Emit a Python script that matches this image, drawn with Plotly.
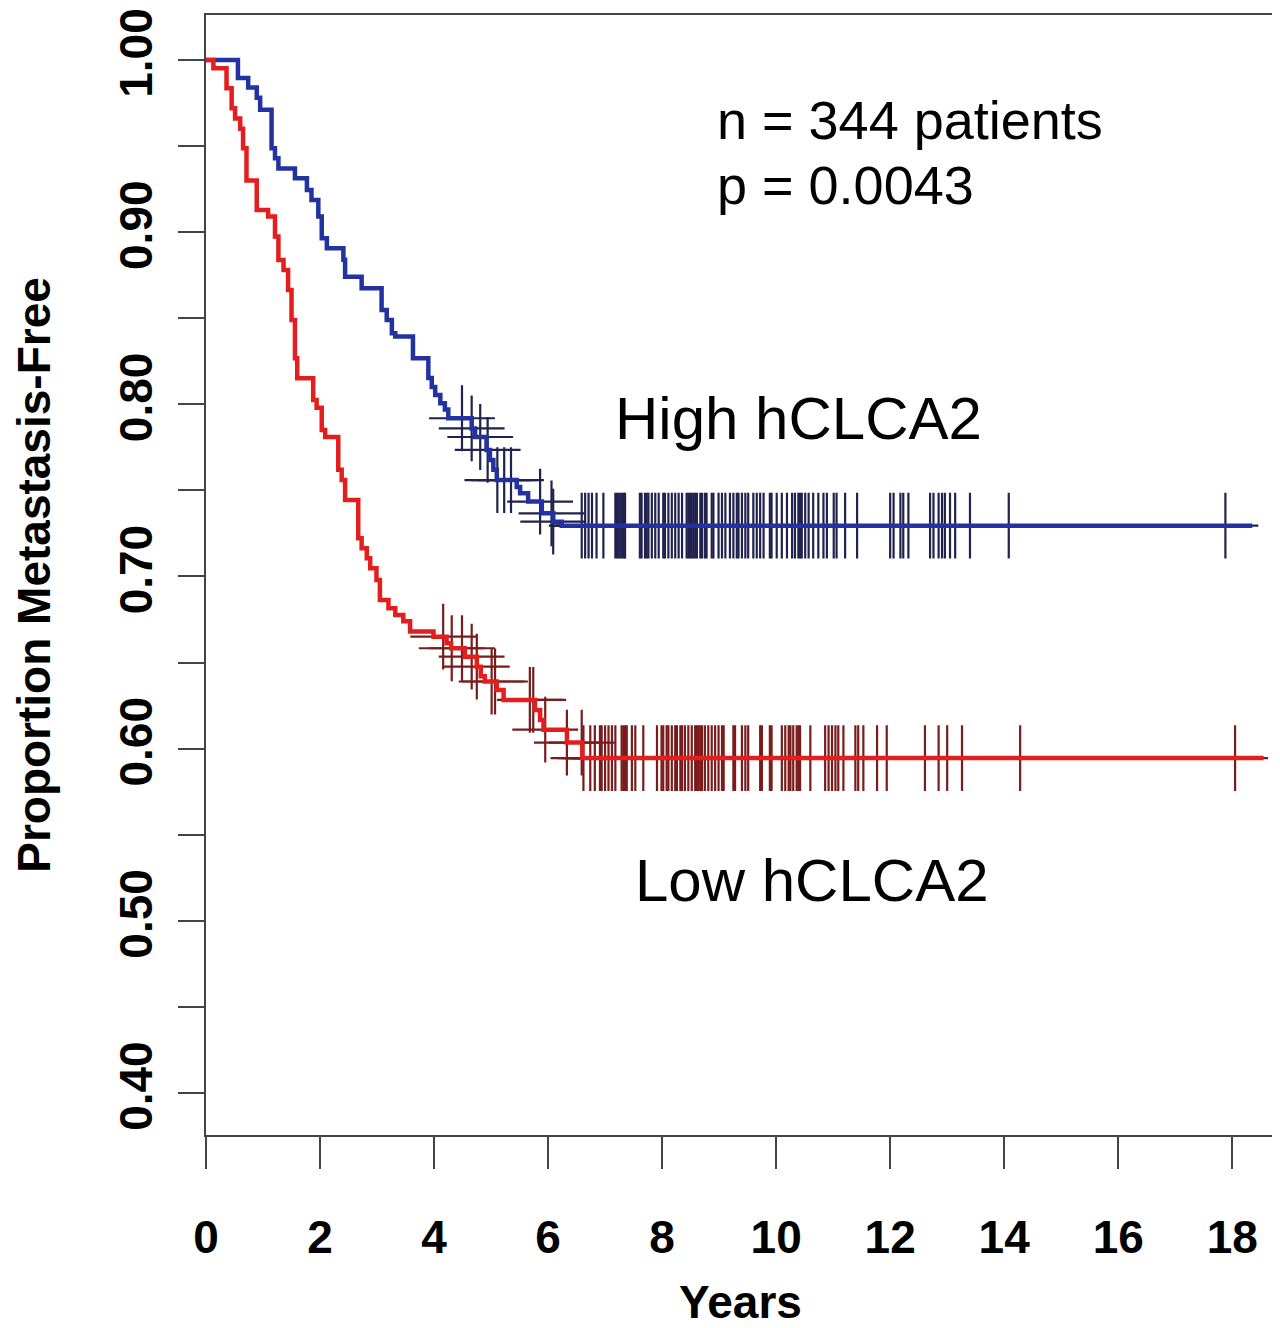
import numpy as np
import plotly.graph_objects as go

# ---- Data ----
high_times = [0, 0.56, 0.74, 0.89, 0.95, 1.15, 1.21, 1.27, 1.56, 1.77, 1.85, 1.97, 2.03, 2.12,
              2.41, 2.44, 2.73, 3.08, 3.17, 3.26, 3.32, 3.63, 3.90, 3.96, 4.02, 4.11, 4.19, 4.25,
              4.66, 4.72, 4.92, 4.98, 5.04, 5.10, 5.45, 5.51, 5.65, 5.89, 6.09, 6.24]
high_surv = [1.0, 0.9895, 0.984, 0.978, 0.971, 0.9487, 0.9429, 0.937, 0.9313, 0.9245, 0.9187, 0.909,
             0.8964, 0.8906, 0.884, 0.8741, 0.8674, 0.8548, 0.849, 0.8413, 0.8393, 0.8267, 0.8153,
             0.810, 0.8054, 0.8006, 0.797, 0.7919, 0.786, 0.781, 0.7735, 0.7677, 0.762, 0.756,
             0.752, 0.7483, 0.7435, 0.7367, 0.7318, 0.7295]
high_end = 18.35

low_times = [0, 0.13, 0.36, 0.45, 0.51, 0.60, 0.65, 0.71, 0.89, 1.09, 1.21, 1.27, 1.36, 1.44, 1.50,
             1.56, 1.60, 1.88, 1.94, 2.03, 2.09, 2.32, 2.38, 2.44, 2.67, 2.73, 2.82, 2.88, 2.99, 3.05,
             3.20, 3.32, 3.46, 3.58, 3.99, 4.22, 4.30, 4.54, 4.75, 4.82, 4.89, 5.10, 5.22, 5.77, 5.86,
             5.92, 6.33, 6.60]
low_surv = [1.0, 0.9952, 0.9836, 0.972, 0.966, 0.960, 0.9487, 0.930, 0.9129, 0.909, 0.8974, 0.8838,
            0.878, 0.8664, 0.849, 0.8267, 0.8151, 0.8025, 0.798, 0.785, 0.781, 0.762, 0.756, 0.7444,
            0.7222, 0.7164, 0.7106, 0.7048, 0.698, 0.6864, 0.6815, 0.6776, 0.674, 0.668, 0.665,
            0.6612, 0.6583, 0.6534, 0.6476, 0.642, 0.639, 0.634, 0.6283, 0.6225, 0.6167, 0.611,
            0.6035, 0.5945]
low_end = 18.55

high_censor = [4.49, 4.66, 4.81, 4.94, 5.11, 5.23, 5.35, 5.86, 6.06, 6.09,
               6.59, 6.65, 6.71, 6.77, 6.85, 6.97, 7.18, 7.21, 7.24, 7.27, 7.30, 7.33, 7.35,
               7.61, 7.64, 7.70, 7.73, 7.76, 7.82, 7.88, 7.94, 8.02, 8.05, 8.11, 8.17, 8.23, 8.29,
               8.35, 8.43, 8.46, 8.49, 8.52, 8.55, 8.58, 8.61, 8.67, 8.70, 8.75, 8.78, 8.87, 8.90,
               8.99, 9.05, 9.11, 9.19, 9.25, 9.31, 9.34, 9.40, 9.46, 9.51, 9.60, 9.66, 9.72, 9.78,
               9.89, 9.92, 10.01, 10.10, 10.19, 10.28, 10.33, 10.39, 10.42, 10.45, 10.51, 10.57,
               10.65, 10.74, 10.83, 10.89, 11.01, 11.06, 11.21, 11.42, 12.00, 12.06, 12.18, 12.23,
               12.32, 12.70, 12.76, 12.85, 12.91, 12.96, 13.05, 13.14, 13.40, 14.08, 17.88]

low_censor = [4.16, 4.31, 4.49, 4.66, 4.75, 5.01, 5.07, 5.68, 5.74, 5.95, 6.33, 6.59, 6.62,
              6.74, 6.82, 6.91, 6.94, 7.00, 7.06, 7.12, 7.18, 7.29, 7.32, 7.35, 7.38, 7.47, 7.53,
              7.67, 7.91, 7.99, 8.02, 8.08, 8.11, 8.17, 8.23, 8.26, 8.32, 8.35, 8.40, 8.46, 8.52,
              8.58, 8.61, 8.64, 8.67, 8.70, 8.75, 8.81, 8.87, 8.93, 8.99, 9.05, 9.08, 9.25, 9.28,
              9.40, 9.46, 9.51, 9.72, 9.75, 9.89, 9.92, 10.10, 10.16, 10.22, 10.25, 10.30, 10.36,
              10.39, 10.42, 10.60, 10.86, 10.92, 10.98, 11.04, 11.09, 11.18, 11.39, 11.44, 11.53,
              11.77, 11.94, 12.61, 12.85, 13.00, 13.26, 14.28, 18.05]

y_tickvals = [0.40, 0.45, 0.50, 0.55, 0.60, 0.65, 0.70, 0.75, 0.80, 0.85, 0.90, 0.95, 1.00]
y_ticktext = ["0.40", "", "0.50", "", "0.60", "", "0.70", "", "0.80", "", "0.90", "", "1.00"]
x_tickvals = [0, 2, 4, 6, 8, 10, 12, 14, 16, 18]


def step_value(times, surv, t):
    idx = np.searchsorted(np.array(times), np.array(t), side="right") - 1
    return np.array(surv)[idx]


fig = go.Figure()

BLUE = "#2232a0"
RED = "#e31e1e"
BLUE_MARK = "#22224e"
RED_MARK = "#7a1c1c"

# censor marks
fig.add_trace(go.Scatter(x=high_censor, y=step_value(high_times, high_surv, high_censor),
                         mode="markers", showlegend=False, hoverinfo="skip",
                         marker=dict(symbol="cross-thin", size=47,
                                     line=dict(color=BLUE_MARK, width=2.2))))
fig.add_trace(go.Scatter(x=low_censor, y=step_value(low_times, low_surv, low_censor),
                         mode="markers", showlegend=False, hoverinfo="skip",
                         marker=dict(symbol="cross-thin", size=47,
                                     line=dict(color=RED_MARK, width=2.2))))

# KM curves
fig.add_trace(go.Scatter(x=high_times + [high_end], y=high_surv + [high_surv[-1]],
                         mode="lines", line=dict(color=BLUE, width=4.5, shape="hv"),
                         showlegend=False))
fig.add_trace(go.Scatter(x=low_times + [low_end], y=low_surv + [low_surv[-1]],
                         mode="lines", line=dict(color=RED, width=4.5, shape="hv"),
                         showlegend=False))

txt_font = dict(family="Liberation Sans, Arial, sans-serif", color="black")
fig.add_annotation(x=8.93, y=0.965, text="n = 344 patients", showarrow=False,
                   xanchor="left", yanchor="middle", font=dict(size=54, **txt_font))
fig.add_annotation(x=8.93, y=0.9274, text="p = 0.0043", showarrow=False,
                   xanchor="left", yanchor="middle", font=dict(size=54, **txt_font))
fig.add_annotation(x=10.39, y=0.792, text="High hCLCA2", showarrow=False,
                   xanchor="center", yanchor="middle", font=dict(size=60, **txt_font))
fig.add_annotation(x=10.63, y=0.5237, text="Low hCLCA2", showarrow=False,
                   xanchor="center", yanchor="middle", font=dict(size=60, **txt_font))

axis_font = "Liberation Sans Narrow, Arial Narrow, Liberation Sans, Arial, sans-serif"

# page body has an 8px default margin; compensate so the plot lands where the reference has it
fig.update_layout(
    width=1272, height=1320,
    margin=dict(l=198, r=5, t=7, b=193),
    paper_bgcolor="white", plot_bgcolor="white",
    xaxis=dict(range=[0, 18.75], tickvals=x_tickvals, ticks="outside", ticklen=32,
               tickwidth=2, tickcolor="#444", showline=True, linecolor="#444", linewidth=2,
               mirror=True, showgrid=False, zeroline=False, automargin=False,
               tickfont=dict(family=axis_font, size=46, color="black", weight="bold"),
               ticklabelstandoff=29,
               title=dict(text="<b>Years</b>", standoff=26,
                          font=dict(family=axis_font, size=46, color="black"))),
    yaxis=dict(range=[0.3756, 1.0261], tickvals=y_tickvals, ticktext=y_ticktext,
               ticks="outside", ticklen=26, tickwidth=2, tickcolor="#444",
               showline=True, linecolor="#444", linewidth=2, mirror=True,
               showgrid=False, zeroline=False, tickangle=-90, automargin=False,
               ticklabelstandoff=8,
               tickfont=dict(family="Liberation Sans, Arial, sans-serif", size=46,
                             color="black", weight="bold"),
               title=dict(text="<b>Proportion Metastasis-Free</b>", standoff=50,
                          font=dict(family="Liberation Sans, Arial, sans-serif", size=46,
                                    color="black"))),
)

fig.write_html("out.html")
